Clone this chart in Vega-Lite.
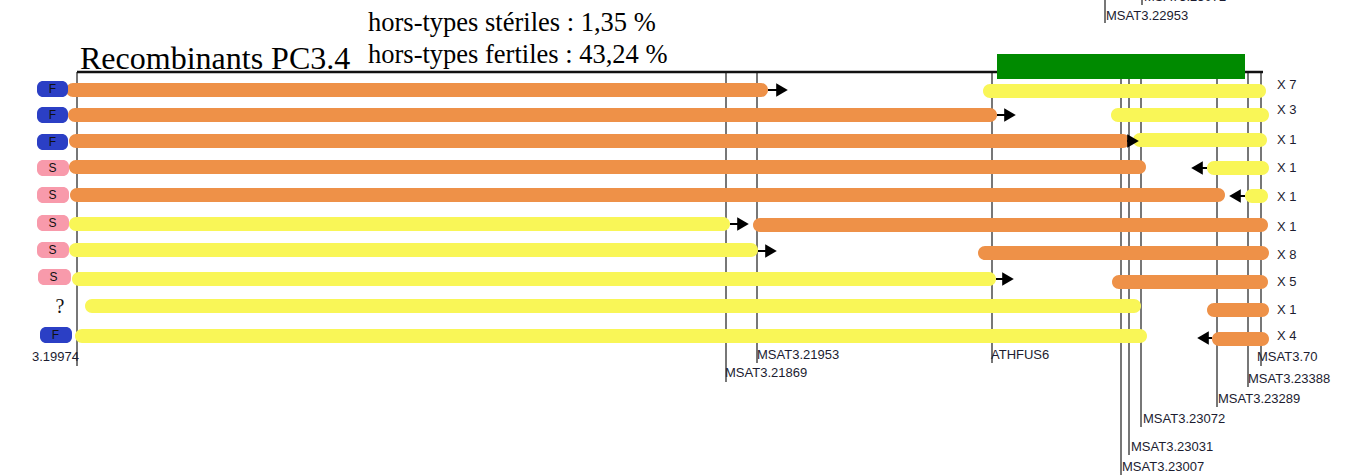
{
"$schema": "https://vega.github.io/schema/vega-lite/v6.json",
"width": 1347, "height": 475,
"autosize": {"type": "none"},
"padding": 0,
"background": "white",
"config": {"view": {"stroke": null}},
"datasets": {
"markers": [
{"name":"3.19974","pos":77,"top":72,"bottom":366,"lx":32,"ly":357},
{"name":"MSAT3.21869","pos":726,"top":72,"bottom":382,"lx":725,"ly":373},
{"name":"MSAT3.21953","pos":757,"top":72,"bottom":363,"lx":757,"ly":355},
{"name":"ATHFUS6","pos":992,"top":72,"bottom":363,"lx":991,"ly":355},
{"name":"MSAT3.23007","pos":1121,"top":72,"bottom":475,"lx":1122,"ly":467},
{"name":"MSAT3.23031","pos":1129,"top":72,"bottom":455,"lx":1131,"ly":447},
{"name":"MSAT3.23072","pos":1141,"top":72,"bottom":427,"lx":1143,"ly":419},
{"name":"MSAT3.23289","pos":1217,"top":72,"bottom":407,"lx":1218,"ly":399},
{"name":"MSAT3.23388","pos":1248,"top":72,"bottom":387,"lx":1248,"ly":379},
{"name":"MSAT3.70","pos":1261,"top":72,"bottom":366,"lx":1257,"ly":357},
{"name":"MSAT3.22953","pos":1105,"top":0,"bottom":23,"lx":1106,"ly":16},
{"name":"MSAT3.23072","pos":1142,"top":0,"bottom":5,"lx":1144,"ly":-3}
],
"frame": [{"x0":77,"x1":1263,"y":72}],
"region": [{"x0":997,"x1":1245,"y0":54,"y1":79}],
"rows": [
{"row":1,"type":"F","count":"X 7","bx0":37,"bx1":68,"badgeY":89,"countY":85},
{"row":2,"type":"F","count":"X 3","bx0":37,"bx1":68,"badgeY":115,"countY":110},
{"row":3,"type":"F","count":"X 1","bx0":37,"bx1":68,"badgeY":142,"countY":140},
{"row":4,"type":"S","count":"X 1","bx0":37,"bx1":69,"badgeY":168,"countY":168},
{"row":5,"type":"S","count":"X 1","bx0":37,"bx1":69,"badgeY":195,"countY":197},
{"row":6,"type":"S","count":"X 1","bx0":37,"bx1":69,"badgeY":223,"countY":227},
{"row":7,"type":"S","count":"X 8","bx0":37,"bx1":69,"badgeY":250,"countY":255},
{"row":8,"type":"S","count":"X 5","bx0":38,"bx1":71,"badgeY":277,"countY":282},
{"row":9,"type":"?","count":"X 1","bx0":44,"bx1":76,"badgeY":307,"countY":310},
{"row":10,"type":"F","count":"X 4","bx0":40,"bx1":72,"badgeY":335,"countY":336}
],
"segments": [
{"row":1,"g":"A","from":66,"to":768,"y":90},
{"row":1,"g":"B","from":983,"to":1266,"y":91},
{"row":2,"g":"A","from":68,"to":997,"y":115},
{"row":2,"g":"B","from":1111,"to":1269,"y":115},
{"row":3,"g":"A","from":69,"to":1130,"y":141},
{"row":3,"g":"B","from":1133,"to":1267,"y":140},
{"row":4,"g":"A","from":69,"to":1146,"y":167},
{"row":4,"g":"B","from":1207,"to":1269,"y":168},
{"row":5,"g":"A","from":70,"to":1225,"y":195},
{"row":5,"g":"B","from":1245,"to":1268,"y":196},
{"row":6,"g":"B","from":69,"to":730,"y":224},
{"row":6,"g":"A","from":753,"to":1268,"y":225},
{"row":7,"g":"B","from":69,"to":758,"y":250},
{"row":7,"g":"A","from":978,"to":1269,"y":253},
{"row":8,"g":"B","from":72,"to":996,"y":279},
{"row":8,"g":"A","from":1112,"to":1268,"y":282},
{"row":9,"g":"B","from":85,"to":1141,"y":306},
{"row":9,"g":"A","from":1207,"to":1269,"y":310},
{"row":10,"g":"B","from":75,"to":1147,"y":336},
{"row":10,"g":"A","from":1212,"to":1269,"y":339}
],
"arrows": [
{"row":1,"from":768,"head":782,"y":90,"dir":"right"},
{"row":2,"from":997,"head":1010,"y":115,"dir":"right"},
{"row":3,"from":1127,"head":1133,"y":141,"dir":"right"},
{"row":4,"from":1207,"head":1197,"y":168,"dir":"left"},
{"row":5,"from":1245,"head":1235,"y":196,"dir":"left"},
{"row":6,"from":730,"head":743,"y":224,"dir":"right"},
{"row":7,"from":758,"head":771,"y":251,"dir":"right"},
{"row":8,"from":996,"head":1008,"y":279,"dir":"right"},
{"row":10,"from":1212,"head":1203,"y":338,"dir":"left"}
],
"titles": [{"text":"Recombinants PC3.4","x":80,"y":69}],
"stats": [
{"text":"hors-types stériles : 1,35 %","x":368,"y":31},
{"text":"hors-types fertiles : 43,24 %","x":368,"y":63}
]
},
"layer": [
{"data":{"name":"markers"},"mark":{"type":"rule","color":"#4a4a4a","strokeWidth":1.5},
 "encoding":{"x":{"field":"pos","type":"quantitative","scale":{"domain":[0,1347],"nice":false,"zero":false,"padding":0},"axis":null},
  "y":{"field":"top","type":"quantitative","scale":{"domain":[0,475],"nice":false,"zero":false,"reverse":true,"padding":0},"axis":null},
  "y2":{"field":"bottom"}}},
{"data":{"name":"markers"},"mark":{"type":"text","font":"Liberation Sans","fontSize":13,"color":"#1c1c30","align":"left","baseline":"middle"},
 "encoding":{"x":{"field":"lx","type":"quantitative"},"y":{"field":"ly","type":"quantitative"},"text":{"field":"name"}}},
{"data":{"name":"frame"},"mark":{"type":"rule","color":"#111111","strokeWidth":2.5},
 "encoding":{"x":{"field":"x0","type":"quantitative"},"x2":{"field":"x1"},"y":{"field":"y","type":"quantitative"}}},
{"data":{"name":"region"},"mark":{"type":"rect","color":"#008a00"},
 "encoding":{"x":{"field":"x0","type":"quantitative"},"x2":{"field":"x1"},"y":{"field":"y0","type":"quantitative"},"y2":{"field":"y1"}}},
{"data":{"name":"segments"},"mark":{"type":"bar","orient":"horizontal","size":14,"cornerRadius":7},
 "encoding":{"x":{"field":"from","type":"quantitative"},"x2":{"field":"to"},"y":{"field":"y","type":"quantitative"},
  "color":{"field":"g","type":"nominal","scale":{"domain":["A","B"],"range":["#ee9148","#f9f657"]},"legend":null}}},
{"data":{"name":"arrows"},"mark":{"type":"rule","color":"#000000","strokeWidth":2},
 "encoding":{"x":{"field":"from","type":"quantitative"},"x2":{"field":"head"},"y":{"field":"y","type":"quantitative"}}},
{"data":{"name":"arrows"},"mark":{"type":"point","filled":true,"color":"#000000","opacity":1,"size":180,"strokeWidth":0},
 "encoding":{"x":{"field":"head","type":"quantitative"},"y":{"field":"y","type":"quantitative"},
  "shape":{"field":"dir","type":"nominal","scale":{"domain":["right","left"],"range":["triangle-right","triangle-left"]},"legend":null}}},
{"data":{"name":"rows"},"transform":[{"filter":"datum.type !== '?'"}],"mark":{"type":"bar","orient":"horizontal","size":16,"cornerRadius":6},
 "encoding":{"x":{"field":"bx0","type":"quantitative"},"x2":{"field":"bx1"},"y":{"field":"badgeY","type":"quantitative"},
  "fill":{"field":"type","type":"nominal","scale":{"domain":["F","S"],"range":["#2b3fc5","#f89aab"]},"legend":null}}},
{"data":{"name":"rows"},"transform":[{"filter":"datum.type !== '?'"}],"mark":{"type":"text","font":"Liberation Sans","fontSize":12,"color":"#111111","align":"center","baseline":"middle","dx":15.5},
 "encoding":{"x":{"field":"bx0","type":"quantitative"},"y":{"field":"badgeY","type":"quantitative"},"text":{"field":"type"}}},
{"data":{"name":"rows"},"transform":[{"filter":"datum.type === '?'"}],"mark":{"type":"text","font":"Liberation Serif","fontSize":20,"color":"#111111","align":"center","baseline":"middle","dx":16},
 "encoding":{"x":{"field":"bx0","type":"quantitative"},"y":{"field":"badgeY","type":"quantitative"},"text":{"field":"type"}}},
{"data":{"name":"rows"},"mark":{"type":"text","font":"Liberation Sans","fontSize":13,"color":"#1c1c30","align":"left","baseline":"middle"},
 "encoding":{"x":{"datum":1277,"type":"quantitative"},"y":{"field":"countY","type":"quantitative"},"text":{"field":"count"}}},
{"data":{"name":"titles"},"mark":{"type":"text","font":"Liberation Serif","fontSize":32,"color":"#000000","align":"left","baseline":"alphabetic"},
 "encoding":{"x":{"field":"x","type":"quantitative"},"y":{"field":"y","type":"quantitative"},"text":{"field":"text"}}},
{"data":{"name":"stats"},"mark":{"type":"text","font":"Liberation Serif","fontSize":26.5,"color":"#000000","align":"left","baseline":"alphabetic"},
 "encoding":{"x":{"field":"x","type":"quantitative"},"y":{"field":"y","type":"quantitative"},"text":{"field":"text"}}}
]
}
